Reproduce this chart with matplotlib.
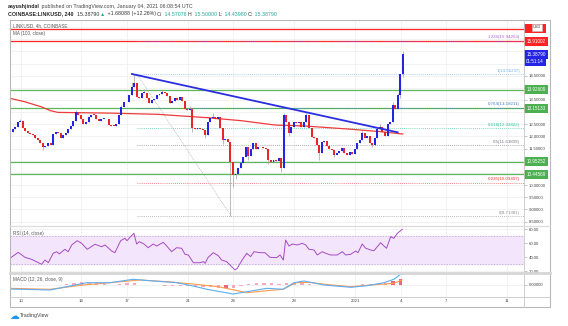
import numpy as np
import matplotlib.pyplot as plt

plt.rcParams['font.family'] = ['Liberation Sans', 'DejaVu Sans']

W, H = 568, 326

# ---- LINKUSD 4h candles; day numbers run on past Dec 31 (32 = Jan 1) ----
first_day = 9.3
first_open = 11.72
closes = [
    12.2, 12.3, 12.38, 12.6, 12.65, 12.35, 12.22, 12.15, 12.1, 12.05,
    11.95, 11.85, 11.72, 11.55, 11.62, 11.72, 11.65, 12.1, 12.2, 12.15,
    11.95, 12.05, 12.15, 12.3, 12.45, 12.62, 13.0, 12.88, 12.7, 12.5,
    12.58, 12.8, 12.9, 12.88, 12.72, 12.65, 12.72, 12.72, 12.7, 12.47,
    12.45, 12.43, 12.5, 12.88, 13.22, 13.43, 13.4, 13.7, 14.05, 14.19,
    13.64, 13.6, 13.78, 13.8, 13.6, 13.39, 13.5, 13.55, 13.7, 13.75,
    13.84, 13.8, 13.65, 13.36, 13.45, 13.58, 13.5, 13.61, 13.47, 13.12,
    13.1, 13.15, 12.34, 12.3, 12.35, 12.3, 12.25, 12.06, 12.6, 12.75,
    12.81, 12.7, 12.78, 12.34, 11.85, 11.9, 11.78, 10.96, 10.41, 10.45,
    10.69, 10.9, 11.17, 11.55, 11.2, 11.5, 11.75, 11.5, 11.58, 11.55,
    11.52, 11.5, 11.03, 10.95, 11.05, 10.98, 11.12, 10.69, 12.88, 12.6,
    12.13, 12.4, 12.6, 12.55, 12.6, 12.4, 12.6, 12.88, 12.34,
    11.96, 11.95, 11.65, 11.3, 11.78, 11.8, 11.6, 11.5, 11.45, 11.24,
    11.3, 11.4, 11.54, 11.3, 11.25, 11.35, 11.28, 11.5, 11.72, 11.85,
    12.16, 11.95, 12.0, 11.72, 11.65, 11.92, 12.29, 12.4, 12.2, 12.0,
    12.5, 12.6, 13.3, 13.15, 13.7, 14.57, 15.3879,
]
wick_high = {4: 12.72, 26: 13.1, 44: 13.3, 48: 14.25, 49: 14.56, 53: 13.95,
             60: 13.92, 71: 13.25, 80: 12.95, 108: 12.95, 117: 13.0,
             139: 12.25, 146: 12.5, 151: 13.4, 153: 13.8, 155: 15.5}
wick_low = {0: 11.6, 13: 11.45, 72: 12.2, 77: 11.95, 84: 11.7, 87: 8.71,
            88: 9.9, 89: 10.25, 94: 11.05, 102: 10.85, 107: 10.55, 110: 12.0,
            122: 11.05, 128: 11.15, 143: 11.55, 154: 13.6, 155: 14.44}

ma_days = [9.3, 10.26, 11.36, 11.97, 12.45, 13.57, 15.94, 19.03, 22.32,
           24.49, 26.73, 28.7, 31.66, 33.63, 35.13]
ma_vals = [13.57, 13.43, 13.22, 13.06, 12.99, 12.98, 12.96, 12.91, 12.77,
           12.65, 12.47, 12.43, 12.3, 12.2, 12.1]

green_levels = [13.92609, 13.15133, 10.95252, 10.44569]
red_levels = [16.44, 15.91002]
red_labels = ['\u00a0' * 14, '15.91002']   # top one is hidden under the USD tag

fib_ratios = ['1.236', '1', '0.764', '0.618', '0.5', '0.236', '0']
fib_prices = [15.94263, 14.56237, 13.18211, 12.32822, 11.63809, 10.09407, 8.71381]
fib_colors = ['#b35fd0', '#6fb1ec', '#3f7fc4', '#2bbf9a', '#7d7385', '#e53935', '#8c8c8c']
fib_start = 17.65

trend_days = [17.32, 34.8]
trend_prices = [14.57, 12.17]
fib_diag_days = [17.65, 23.86]
fib_diag_prices = [14.56237, 8.71381]

last_price = 15.38790
countdown = '01:51:14'

price_grid = [8.5, 9.0, 9.5, 10.0, 10.5, 11.0, 11.5, 12.0, 12.5, 13.0, 13.5,
              14.0, 14.5, 15.0, 15.5, 16.0, 16.5]
price_labeled = [8.5, 9.0, 9.5, 10.0, 11.5, 12.0, 12.5, 13.5, 14.5]

rsi_days = [9.3, 9.84, 10.28, 10.72, 11.38, 11.6, 11.82, 12.14, 12.37, 12.54,
            12.91, 13.13, 13.36, 13.72, 14.01, 14.38, 14.89, 15.33, 15.55, 15.99,
            16.2, 16.58, 16.86, 17.0, 17.19, 17.45, 17.63, 17.8, 18.11, 18.39,
            18.72, 18.95, 19.38, 19.61, 19.93, 20.26, 20.59, 20.81, 21.03, 21.36,
            21.8, 22.02, 22.13, 22.34, 22.67, 23.0, 23.22, 23.55, 23.88, 24.1,
            24.25, 24.54, 24.87, 25.13, 25.35, 25.74, 26.07, 26.4, 26.84, 27.06,
            27.28, 27.43, 27.65, 27.87, 28.2, 28.53, 28.75, 28.97, 29.3, 29.51,
            29.84, 30.07, 30.39, 30.83, 31.16, 31.38, 31.71, 32.04, 32.19, 32.47,
            32.7, 33.03, 33.24, 33.68, 33.9, 34.07, 34.34, 34.55, 34.78, 35.11]
rsi_vals = [38.6, 47.1, 40, 37.1, 30, 36.1, 32.3, 45.7, 48, 44.8,
            51.4, 48, 57.6, 63.7, 60, 51.4, 58.6, 55.1, 57.6, 49,
            46.6, 63.7, 67.1, 63.7, 68.6, 74.3, 59, 62.3, 59, 53.7,
            59, 56.1, 61.4, 56.1, 48, 53.7, 52.9, 44.3, 43.3, 32.3,
            32.3, 33.8, 31.4, 40, 46.6, 42.3, 36.1, 33.8, 26.6, 21.9,
            24.3, 35.2, 45.7, 41, 48, 46.6, 46.6, 40, 39.5, 43.3,
            36.1, 64.7, 56.1, 59, 57.6, 60, 57.6, 51.4, 50.4, 43.3,
            48, 45.7, 43.3, 43.3, 48, 43.3, 44.3, 49, 46.6, 59,
            52.9, 50.4, 49.4, 60.9, 56.1, 52.9, 69.4, 67.1, 74.3, 80]

macd_days = [9.3, 11.93, 13.03, 14.34, 15.88, 17.39, 18.5, 20.28, 21.34, 22.26,
             23.97, 24.89, 26.2, 27.26, 27.98, 28.64, 29.96, 31.73, 32.78, 33.9,
             34.55, 35.08]
macd_vals = [-0.086, -0.106, -0.04, 0.04, 0.04, 0.108, 0.08, 0.04, -0.026, -0.092,
             -0.186, -0.14, -0.072, -0.092, 0.04, 0.074, -0.006, -0.052, -0.02, 0.04,
             0.108, 0.228]
signal_days = [9.3, 11.93, 14.1, 15.88, 17.85, 19.63, 21.34, 23.0, 24.89, 26.2,
               27.26, 28.09, 28.95, 30.46, 31.73, 33.04, 34.55, 35.08]
signal_vals = [-0.072, -0.092, -0.006, 0.04, 0.094, 0.06, 0.014, -0.04, -0.16, -0.12,
               -0.092, 0.04, 0.048, -0.006, -0.04, -0.006, 0.028, 0.094]
hist_start = 9.5   # one bar every 12h
hist_vals = [-0.01, -0.01, -0.01, -0.015, -0.015, -0.01, 0.0, 0.02, 0.035, 0.045,
             0.04, 0.03, 0.01, 0.0, 0.02, 0.03, 0.025, 0.0, -0.01, -0.015,
             -0.02, -0.02, -0.03, -0.035, -0.04, -0.05, -0.055, -0.06, -0.065, -0.06,
             -0.03, 0.01, 0.03, 0.04, 0.035, 0.01, 0.03, 0.04, 0.035, 0.01,
             -0.01, -0.015, -0.02, -0.02, -0.015, 0.0, 0.01, 0.015, 0.02, 0.03,
             0.07, 0.12]

date_ticks = [10, 14, 17, 21, 24, 28, 32, 35, 38, 42]
date_labels = ['10', '14', '17', '21', '24', '28', '2021', '4', '7', '11']

BLUE = '#2424e6'
RED = '#e5262a'
XLIM = (9.3, 43.11)


def px_rect(x0, y0, x1, y1):
    return [x0 / W, 1 - y1 / H, (x1 - x0) / W, (y1 - y0) / H]


def style(a):
    a.set_facecolor('none')
    for s in a.spines.values():
        s.set_visible(False)
    a.yaxis.tick_right()
    a.tick_params(axis='y', length=2, width=0.4, color='#999999', pad=1.2,
                  labelsize=3.1, labelcolor='#444444')
    a.set_xticks(date_ticks)
    a.tick_params(axis='x', length=0, labelbottom=False)
    a.grid(True, color='#ededed', lw=0.5)
    a.set_axisbelow(True)
    a.set_xlim(*XLIM)


fig = plt.figure(figsize=(W / 100, H / 100), dpi=100)
fig.patch.set_facecolor('white')

# ---- price pane ----
ax = fig.add_axes(px_rect(10, 20, 524, 226))
style(ax)
ax.set_ylim(8.315, 16.792)
ax.set_yticks(price_grid)
ax.set_yticklabels([f'{v:.5f}' if v in price_labeled else '' for v in price_grid])

n = len(closes)
t = first_day + np.arange(n) / 6
c = np.array(closes)
o = np.r_[first_open, c[:-1]]
hi = np.maximum(o, c)
lo = np.minimum(o, c)
for k, v in wick_high.items():
    hi[k] = v
for k, v in wick_low.items():
    lo[k] = v
up = c >= o
ax.vlines(t, lo, hi, color='#a0a0a0', lw=0.5, zorder=3)
ax.bar(t, np.maximum(np.abs(c - o), 0.03), bottom=np.minimum(o, c), width=0.13,
       color=np.where(up, BLUE, RED), zorder=4)

ax.plot(ma_days, ma_vals, color='#ee3b3b', lw=0.9, zorder=3)

for lv in green_levels:
    ax.axhline(lv, color='#5cb85c', lw=0.9, zorder=2)
for lv in red_levels:
    ax.axhline(lv, color='#ff2424', lw=0.9, zorder=2)

for r, p, col in zip(fib_ratios, fib_prices, fib_colors):
    ax.hlines(p, fib_start, XLIM[1], color=col, lw=0.6, ls=(0, (1, 1.5)), alpha=0.8, zorder=2)
    ax.text(42.85, p + 0.06, f'{r}({p:.5f})', color=col, fontsize=3.2,
            ha='right', va='bottom', zorder=6)
ax.plot(fib_diag_days, fib_diag_prices, color='#9a9a9a', lw=0.5, ls=(0, (1, 1.5)), zorder=2)
ax.plot(trend_days, trend_prices, color='#2a2ee0', lw=1.3, zorder=5)

tr = ax.get_yaxis_transform()
box_kw = dict(fontsize=3.3, color='white', ha='left', va='center', transform=tr,
              clip_on=False, zorder=8)
for lv, lab in zip(red_levels, red_labels):
    ax.text(1.0045, lv, lab, bbox=dict(boxstyle='square,pad=0.45', fc='#ff2424', ec='none'), **box_kw)
for lv in green_levels:
    ax.text(1.0045, lv, f'{lv:.5f}', bbox=dict(boxstyle='square,pad=0.45', fc='#4caf50', ec='none'), **box_kw)
ax.text(1.0045, last_price, f'{last_price:.5f}', bbox=dict(boxstyle='square,pad=0.45', fc=BLUE, ec='none'), **box_kw)
ax.annotate(countdown, xy=(1.0045, last_price), xycoords=tr, xytext=(0, -5.6),
            textcoords='offset points', fontsize=3.3, color='white', va='center', ha='left',
            bbox=dict(boxstyle='square,pad=0.45', fc=BLUE, ec='none'), annotation_clip=False, zorder=8)

# ---- RSI pane ----
ax_rsi = fig.add_axes(px_rect(10, 226, 524, 272))
style(ax_rsi)
ax_rsi.set_ylim(19.0, 84.7)
ax_rsi.set_yticks([20, 40, 60, 80])
ax_rsi.set_yticklabels(['20.00', '40.00', '60.00', '80.00'])
ax_rsi.axhspan(30, 70, color='#f3e5fc', zorder=1)
for lv in (30, 70):
    ax_rsi.axhline(lv, color='#b9a3c8', lw=0.5, ls=(0, (2, 2)), zorder=2)
ax_rsi.plot(rsi_days, rsi_vals, color='#a84bc4', lw=0.7, zorder=3)

# ---- MACD pane ----
ax_macd = fig.add_axes(px_rect(10, 273, 524, 297))
style(ax_macd)
ax_macd.set_ylim(-0.246, 0.234)
ax_macd.set_yticks([0])
ax_macd.set_yticklabels(['0.00000'])
hist_t = hist_start + 0.5 * np.arange(len(hist_vals))
hv = np.array(hist_vals)
ax_macd.bar(hist_t, hv, width=0.22, color=np.where(np.abs(hv) > 0.06, '#f06080', '#f6a9bb'), zorder=2)
ax_macd.plot(signal_days, signal_vals, color='#ff9a4d', lw=0.8, zorder=3)
ax_macd.plot(macd_days, macd_vals, color='#5aaef5', lw=0.8, zorder=4)
ax_macd.tick_params(axis='x', labelbottom=True, pad=1.6, labelsize=3.1, labelcolor='#444444')
ax_macd.set_xticklabels(date_labels)

# ---- overlay: frame, separators, captions ----
ov = fig.add_axes([0, 0, 1, 1], zorder=10)
ov.set_xlim(0, W)
ov.set_ylim(H, 0)
ov.axis('off')
ov.plot([9.5, 550, 550, 9.5, 9.5], [19.5, 19.5, 307, 307, 19.5], color='#b8b8b8', lw=0.8)
ov.plot([524, 524], [19.5, 307], color='#c8c8c8', lw=0.6)
ov.plot([9.5, 550], [297, 297], color='#c8c8c8', lw=0.6)
ov.plot([9.5, 550], [226, 226], color='#dcdcdc', lw=0.9)
ov.plot([9.5, 550], [272.5, 272.5], color='#d6d6d6', lw=2.0)

txt = dict(fontsize=3.8, va='center', ha='left')
t1 = ov.text(8, 6.5, 'aayushjindal', fontweight='bold', color='#222222', **txt)
ov.annotate(' published on TradingView.com, January 04, 2021 06:08:54 UTC', xy=(1, 0.5),
            xycoords=t1, fontsize=3.8, va='center', ha='left', color='#444444')

parts = [('COINBASE:LINKUSD, 240', '#222222', 'bold'), ('  15.38790 ', '#333333', 'normal'),
         ('\u25b2', '#26a69a', 'normal'), (' +1.68088 (+12.26%) ', '#333333', 'normal'),
         ('O:', '#333333', 'normal'), (' 14.57076 ', '#26a69a', 'normal'),
         ('H:', '#333333', 'normal'), (' 15.50000 ', '#26a69a', 'normal'),
         ('L:', '#333333', 'normal'), (' 14.43980 ', '#26a69a', 'normal'),
         ('C:', '#333333', 'normal'), (' 15.38790', '#26a69a', 'normal')]
prev = ov.text(8, 14, parts[0][0], color=parts[0][1], fontweight=parts[0][2], **txt)
for s, col, fw in parts[1:]:
    prev = ov.annotate(s, xy=(1, 0.5), xycoords=prev, fontsize=3.8, va='center',
                       ha='left', color=col, fontweight=fw)

small = dict(fontsize=3.3, va='center', ha='left', color='#555555')
ov.text(13, 25.5, 'LINKUSD, 4h, COINBASE', **small)
ov.text(13, 34, 'MA (100, close)', **small)
ov.text(13, 233.5, 'RSI (14, close)', **small)
ov.text(13, 279.5, 'MACD (12, 26, close, 9)', **small)
ov.text(537, 27.5, 'USD', fontsize=2.8, color='#444444', ha='center', va='center',
        bbox=dict(boxstyle='square,pad=0.3', fc='white', ec='#bbbbbb', lw=0.4))

ov.text(9, 316, '\u2601', fontsize=7, color='#2196f3', va='center', ha='left')
ov.text(20, 316, 'TradingView', fontsize=3.8, color='#444444', va='center', ha='left')

fig.savefig('out.png', dpi=100)
